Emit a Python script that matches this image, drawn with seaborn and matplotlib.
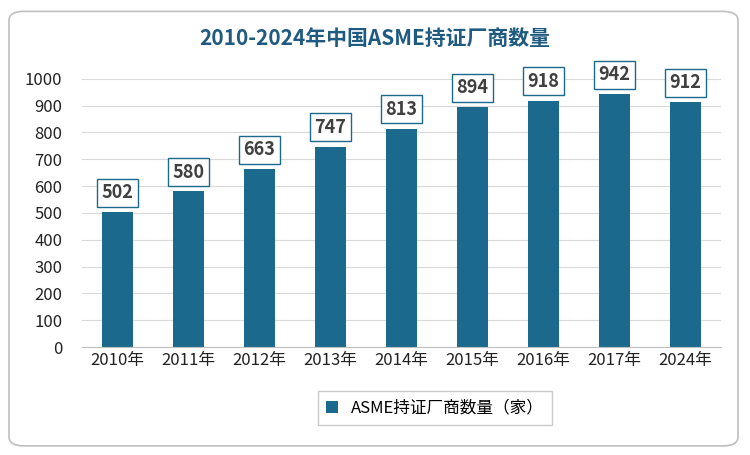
import matplotlib
matplotlib.use("Agg")
import matplotlib.pyplot as plt
from matplotlib import font_manager as fm
import seaborn as sns
import pandas as pd
from matplotlib.patches import FancyBboxPatch

years = ["2010年","2011年","2012年","2013年","2014年","2015年","2016年","2017年","2024年"]
values = [502,580,663,747,813,894,918,942,912]
series_name = "ASME持证厂商数量（家）"
title = "2010-2024年中国ASME持证厂商数量"

cjk = [f for f in fm.fontManager.ttflist if "CJK" in f.name or "cjk" in f.fname.lower()]
fp = None
for f in cjk:
    if "SC" in f.name:
        fp = f; break
if fp is None and cjk:
    fp = cjk[0]
if fp is not None:
    fm.fontManager.addfont(fp.fname)
    fam = fp.name
else:
    fam = "Noto Sans CJK SC"
plt.rcParams["font.family"] = [fam, "DejaVu Sans"]
color = "#1b6a8d"
df = pd.DataFrame({"year": years, "value": values})

fig = plt.figure(figsize=(7.5, 4.55), dpi=100)
fig.patches.append(FancyBboxPatch((0.012, 0.02), 0.972, 0.955, boxstyle="round,pad=0,rounding_size=0.02",
                                  transform=fig.transFigure, fc="white", ec="#bfbfbf", lw=1.2, zorder=-1))
ax = fig.add_axes([0.109, 0.237, 0.852, 0.59])
sns.barplot(data=df, x="year", y="value", color=color, width=0.43, ax=ax, saturation=1, label=series_name)
ax.set_ylim(0, 1000)
ax.set_yticks(range(0, 1001, 100))
ax.grid(axis="y", color="#d9d9d9", lw=0.8)
ax.set_axisbelow(True)
for s in ["top", "right", "left"]:
    ax.spines[s].set_visible(False)
ax.spines["bottom"].set_color("#bfbfbf")
ax.tick_params(length=0, labelsize=12, colors="#222222")
ax.tick_params(axis="y", pad=14)
ax.set_xlabel(""); ax.set_ylabel("")
for i, v in enumerate(values):
    ax.annotate(str(v), (i, v), xytext=(0, 14), textcoords="offset points", ha="center", va="center",
                fontsize=13, fontweight="bold", color="#404040",
                bbox=dict(boxstyle="square,pad=0.25", fc="white", ec=color, lw=1))
fig.text(0.5, 0.915, title, ha="center", va="center", fontsize=15, fontweight="bold", color="#1f5a80")
leg = fig.legend(loc="center", bbox_to_anchor=(0.58, 0.103), frameon=True, fontsize=12,
                 handlelength=0.7, handleheight=0.7, borderpad=0.5, fancybox=False)
leg.get_frame().set_edgecolor("#bfbfbf")
if ax.get_legend():
    ax.get_legend().remove()
fig.savefig("out.png", dpi=100)
